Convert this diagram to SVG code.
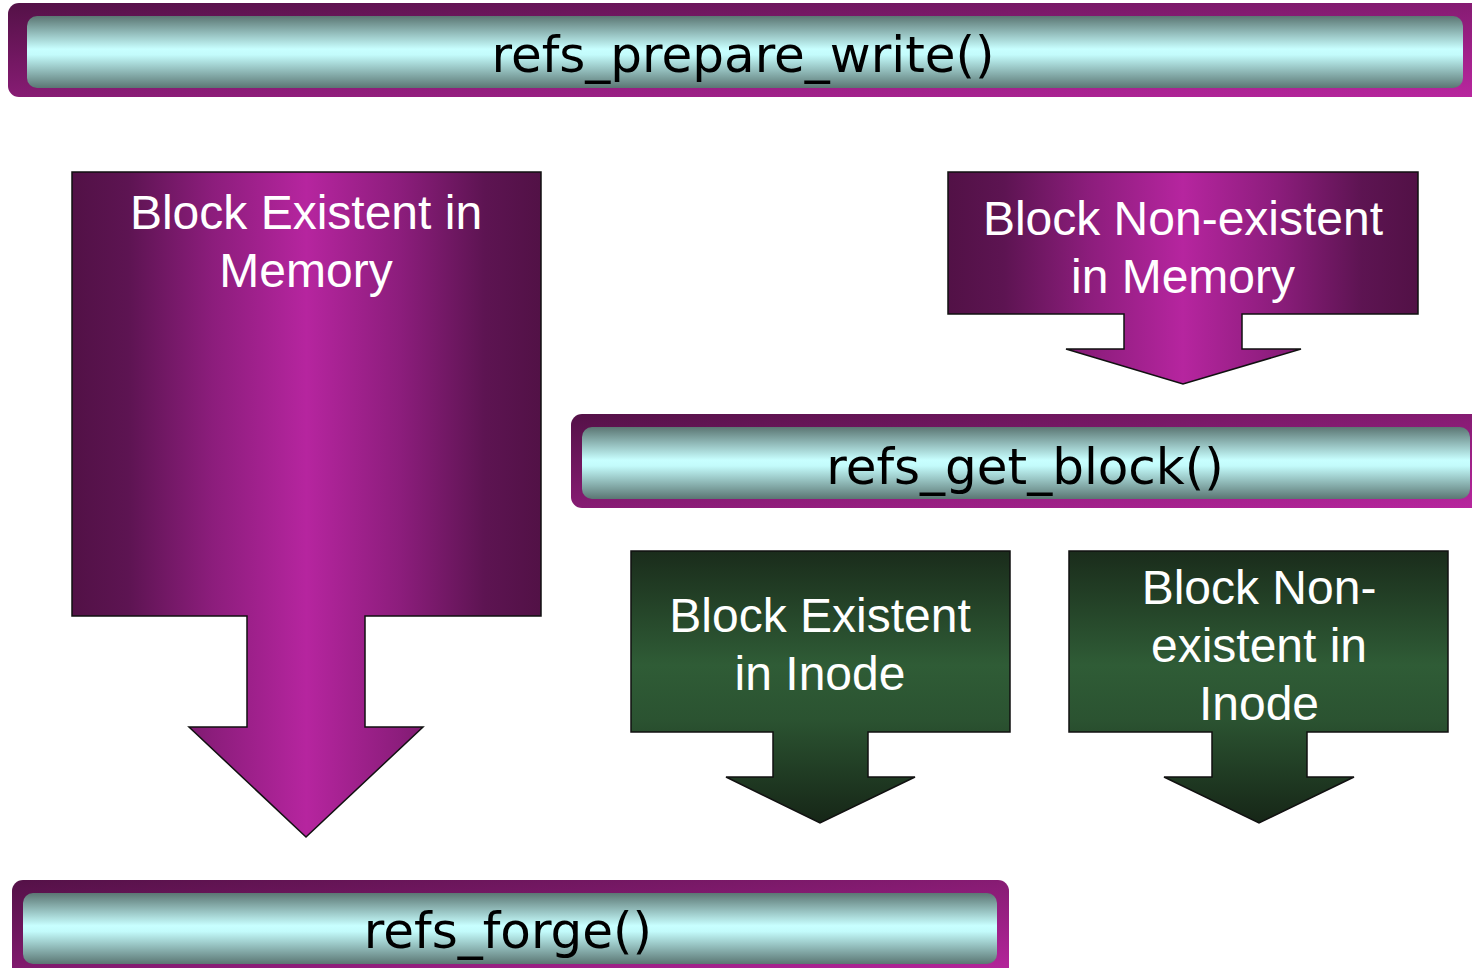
<svg xmlns="http://www.w3.org/2000/svg" width="1472" height="968" viewBox="0 0 1472 968">
  <defs>
    <linearGradient id="barOuter" x1="0" y1="0" x2="1" y2="1">
      <stop offset="0" stop-color="#541147"/>
      <stop offset="1" stop-color="#b9269f"/>
    </linearGradient>
    <linearGradient id="barInner" x1="0" y1="0" x2="0" y2="1">
      <stop offset="0" stop-color="#5b7673"/>
      <stop offset="0.46" stop-color="#c8ffff"/>
      <stop offset="0.54" stop-color="#c3fbfb"/>
      <stop offset="1" stop-color="#5b7673"/>
    </linearGradient>
    <linearGradient id="purpleFill" x1="0" y1="0" x2="1" y2="0">
      <stop offset="0" stop-color="#521146"/>
      <stop offset="0.12" stop-color="#5d1452"/>
      <stop offset="0.3" stop-color="#8c1d7c"/>
      <stop offset="0.5" stop-color="#b6259f"/>
      <stop offset="0.7" stop-color="#8c1d7c"/>
      <stop offset="0.88" stop-color="#5d1452"/>
      <stop offset="1" stop-color="#521146"/>
    </linearGradient>
    <linearGradient id="greenFill" x1="0" y1="0" x2="0" y2="1">
      <stop offset="0" stop-color="#1a2c1b"/>
      <stop offset="0.42" stop-color="#2f5c36"/>
      <stop offset="0.62" stop-color="#2b5331"/>
      <stop offset="1" stop-color="#162617"/>
    </linearGradient>
    <style>
      .outer { fill: url(#barOuter); }
      .inner { fill: url(#barInner); }
      .barText { font-family: "DejaVu Sans", "Verdana", sans-serif; font-size: 50px; fill: #000; text-anchor: middle; }
      .purple { fill: url(#purpleFill); stroke: #111; stroke-width: 1.5; stroke-linejoin: miter; }
      .green { fill: url(#greenFill); stroke: #111; stroke-width: 1.5; stroke-linejoin: miter; }
      .calloutText { font-family: "Liberation Sans", Arial, sans-serif; font-size: 48px; fill: #fff; text-anchor: middle; }
    </style>
  </defs>
  <rect width="1472" height="968" fill="#ffffff"/>

  <g id="refs_prepare_write">
    <rect class="outer" x="8" y="3" width="1490" height="94" rx="11"/>
    <rect class="inner" x="27" y="16" width="1436" height="72" rx="10"/>
    <text class="barText" x="743" y="72">refs_prepare_write()</text>
  </g>

  <g id="block_existent_memory">
    <path class="purple" d="M72,172 H541 V616 H365 V727 H423 L306,837 L189,727 H247 V616 H72 Z"/>
    <text class="calloutText" x="306" y="229">Block Existent in</text>
    <text class="calloutText" x="306" y="287">Memory</text>
  </g>

  <g id="block_nonexistent_memory">
    <path class="purple" d="M948,172 H1418 V314 H1242 V349 H1301 L1183,384 L1066,349 H1124 V314 H948 Z"/>
    <text class="calloutText" x="1183" y="235">Block Non-existent</text>
    <text class="calloutText" x="1183" y="293">in Memory</text>
  </g>

  <g id="refs_get_block">
    <rect class="outer" x="571" y="414" width="930" height="94" rx="11"/>
    <rect class="inner" x="582" y="427" width="888" height="72" rx="10"/>
    <text class="barText" x="1025" y="484">refs_get_block()</text>
  </g>

  <g id="block_existent_inode">
    <path class="green" d="M631,551 H1010 V732 H868 V777 H915 L820,823 L726,777 H773 V732 H631 Z"/>
    <text class="calloutText" x="820" y="632">Block Existent</text>
    <text class="calloutText" x="820" y="690">in Inode</text>
  </g>

  <g id="block_nonexistent_inode">
    <path class="green" d="M1069,551 H1448 V732 H1307 V777 H1354 L1259,823 L1164,777 H1212 V732 H1069 Z"/>
    <text class="calloutText" x="1259" y="604">Block Non-</text>
    <text class="calloutText" x="1259" y="662">existent in</text>
    <text class="calloutText" x="1259" y="720">Inode</text>
  </g>

  <g id="refs_forge">
    <rect class="outer" x="12" y="880" width="997" height="100" rx="11"/>
    <rect class="inner" x="23" y="893" width="974" height="71" rx="10"/>
    <text class="barText" x="508" y="948">refs_forge()</text>
  </g>

  <g id="connectors"/>
</svg>
